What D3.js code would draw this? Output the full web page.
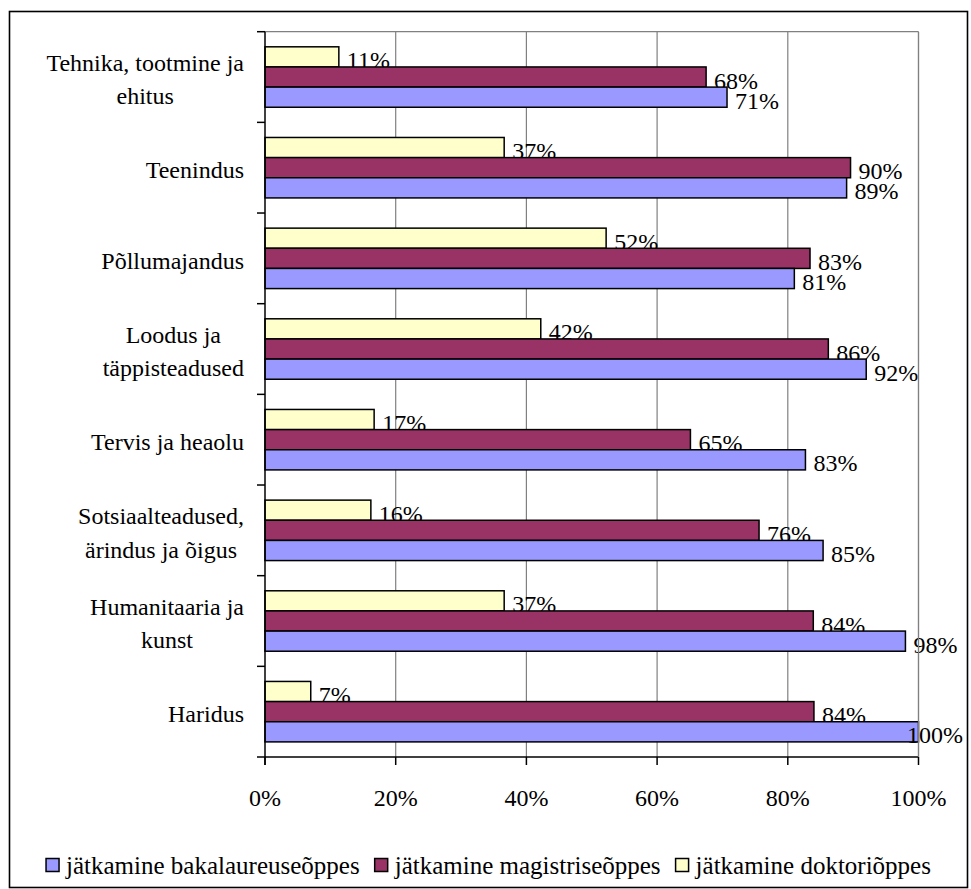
<!DOCTYPE html>
<head>
  <meta charset="utf-8">
  <script src="https://d3js.org/d3.v7.min.js"></script>
  <style>
    body { margin: 0; background: #fff; }
    svg text { font-family: 'Liberation Serif', 'DejaVu Serif', serif; font-size: 24px; fill: #000; }
    svg .legend text { font-size: 25px; }
  </style>
</head>
<body>
<script>
  // categories from top to bottom
  var categories = [
    "Tehnika, tootmine ja\nehitus",
    "Teenindus",
    "Põllumajandus",
    "Loodus ja\ntäppisteadused",
    "Tervis ja heaolu",
    "Sotsiaalteadused,\närindus ja õigus",
    "Humanitaaria ja\nkunst",
    "Haridus"
  ];
  var seriesNames = ["jätkamine bakalaureuseõppes", "jätkamine magistriseõppes", "jätkamine doktoriõppes"];
  var bakalaureus = [0.707, 0.890, 0.810, 0.920, 0.827, 0.854, 0.980, 1.000];
  var magister    = [0.675, 0.896, 0.834, 0.862, 0.651, 0.756, 0.839, 0.840];
  var doktor      = [0.113, 0.366, 0.522, 0.422, 0.167, 0.162, 0.366, 0.070];
  var xTicks = [0, 0.2, 0.4, 0.6, 0.8, 1];
  var colors = ["#9999FF", "#993366", "#FFFFCC"];

  var W = 971, H = 889;
  var plot = {left: 265, right: 918.5, top: 31.7, bottom: 757};

  var svg = d3.select("body").append("svg")
      .attr("width", W)
      .attr("height", H);

  // outer chart border
  svg.append("rect")
      .attr("x", 9.5).attr("y", 11.5)
      .attr("width", 958).attr("height", 876)
      .attr("fill", "#fff").attr("stroke", "#000").attr("stroke-width", 1.6);

  var x = d3.scaleLinear().domain([0, 1]).range([plot.left, plot.right]);
  var y = d3.scaleBand().domain(categories).range([plot.top, plot.bottom]);

  // series inside a category band: doktor on top, bakalaureus at the bottom
  var series = [
    {name: seriesNames[2], values: doktor, color: colors[2]},
    {name: seriesNames[1], values: magister, color: colors[1]},
    {name: seriesNames[0], values: bakalaureus, color: colors[0]}
  ];
  var ys = d3.scaleBand()
      .domain(series.map(function(s) { return s.name; }))
      .range([y.bandwidth() / 6, y.bandwidth() * 5 / 6]);

  // gridlines
  svg.append("g").selectAll("line")
      .data(xTicks.slice(1))
      .enter().append("line")
        .attr("x1", function(d) { return x(d); })
        .attr("x2", function(d) { return x(d); })
        .attr("y1", plot.top).attr("y2", plot.bottom)
        .attr("stroke", "#808080").attr("stroke-width", 1.2);

  svg.append("line")
      .attr("x1", plot.left).attr("x2", plot.right)
      .attr("y1", plot.top).attr("y2", plot.top)
      .attr("stroke", "#808080").attr("stroke-width", 1.2);

  // bars and value labels, one series at a time
  var fmt = d3.format(".0%");
  series.forEach(function(s) {
    var g = svg.append("g");
    g.selectAll("rect")
        .data(s.values)
        .enter().append("rect")
          .attr("x", x(0))
          .attr("y", function(d, i) { return y(categories[i]) + ys(s.name); })
          .attr("width", function(d) { return x(d) - x(0); })
          .attr("height", ys.bandwidth())
          .attr("fill", s.color)
          .attr("stroke", "#000")
          .attr("stroke-width", 1.5);
    g.selectAll("text")
        .data(s.values)
        .enter().append("text")
          .attr("y", function(d, i) { return y(categories[i]) + ys(s.name) + ys.bandwidth() + 1.5; })
          .text(function(d) { return fmt(d); })
          .attr("x", function(d) {
            // keep the label inside the chart frame, like the original does for 100%
            var w = this.getComputedTextLength();
            return Math.min(x(d) + 8, 963 - w);
          });
  });

  // left axis
  var yTicks = categories.map(function(c) { return y(c); }).concat([plot.bottom]);
  svg.append("line")
      .attr("x1", plot.left).attr("x2", plot.left)
      .attr("y1", plot.top).attr("y2", plot.bottom + 8)
      .attr("stroke", "#000").attr("stroke-width", 1.5);
  svg.append("g").selectAll("line")
      .data(yTicks)
      .enter().append("line")
        .attr("x1", plot.left - 8).attr("x2", plot.left)
        .attr("y1", function(d) { return d; }).attr("y2", function(d) { return d; })
        .attr("stroke", "#000").attr("stroke-width", 1.5);

  // category labels: block right-aligned, lines centred inside the block
  var labelRight = 244;
  categories.forEach(function(c) {
    var lines = c.split("\n");
    var cy = y(c) + y.bandwidth() / 2;
    var t = svg.append("g");
    var texts = lines.map(function(l, i) {
      return t.append("text")
          .attr("y", cy + 10.7 + (i - (lines.length - 1) / 2) * 33.3)
          .attr("text-anchor", "middle")
          .text(l);
    });
    var bw = d3.max(texts, function(tx) { return tx.node().getComputedTextLength(); });
    texts.forEach(function(tx) { tx.attr("x", labelRight - bw / 2); });
  });

  // bottom axis
  svg.append("line")
      .attr("x1", plot.left).attr("x2", plot.right)
      .attr("y1", plot.bottom).attr("y2", plot.bottom)
      .attr("stroke", "#000").attr("stroke-width", 1.5);
  var xAxis = svg.append("g");
  xAxis.selectAll("line")
      .data(xTicks)
      .enter().append("line")
        .attr("x1", function(d) { return x(d); })
        .attr("x2", function(d) { return x(d); })
        .attr("y1", plot.bottom).attr("y2", plot.bottom + 8)
        .attr("stroke", "#000").attr("stroke-width", 1.5);
  xAxis.selectAll("text")
      .data(xTicks)
      .enter().append("text")
        .attr("x", function(d) { return x(d); })
        .attr("y", 806)
        .attr("text-anchor", "middle")
        .text(function(d) { return fmt(d); });

  // right border of plot area (grey)
  svg.append("line")
      .attr("x1", plot.right).attr("x2", plot.right)
      .attr("y1", plot.top).attr("y2", plot.bottom)
      .attr("stroke", "#808080").attr("stroke-width", 1.2);

  // legend
  var legend = svg.append("g").attr("class", "legend");
  var items = seriesNames.map(function(n, i) {
    var it = legend.append("g");
    it.append("rect")
        .attr("width", 13).attr("height", 13)
        .attr("y", 858.5)
        .attr("fill", colors[i]).attr("stroke", "#000").attr("stroke-width", 1.5);
    var tx = it.append("text")
        .attr("x", 20).attr("y", 873.5)
        .text(n);
    return {g: it, w: 20 + tx.node().getComputedTextLength()};
  });
  var gap = 15;
  var total = d3.sum(items, function(d) { return d.w; }) + gap * (items.length - 1);
  var lx = 488.5 - total / 2;
  items.forEach(function(it) {
    it.g.attr("transform", "translate(" + lx + ",0)");
    lx += it.w + gap;
  });
</script>
</body>
